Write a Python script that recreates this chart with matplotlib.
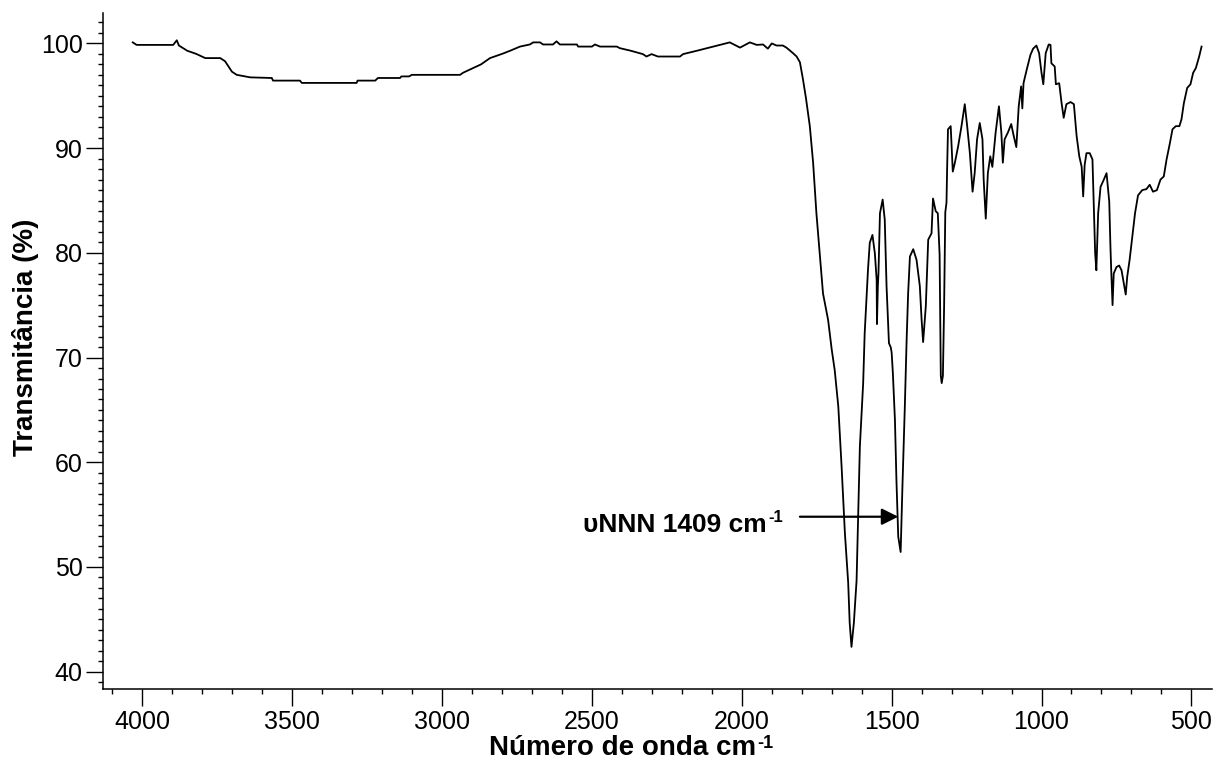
import matplotlib
matplotlib.use('Agg')
import matplotlib.pyplot as plt
from matplotlib.ticker import MultipleLocator

plt.rcParams['font.family'] = ['Liberation Sans', 'DejaVu Sans']

# espectro de IV (número de onda em cm-1, transmitância em %)
numero_onda = [4032, 4019, 3960, 3897, 3885, 3878, 3850, 3820, 3790, 3774, 3740, 3724, 3701,
               3685, 3640, 3568, 3564, 3474, 3468, 3285, 3282, 3223, 3214, 3140, 3136, 3110,
               3101, 2940, 2930, 2900, 2870, 2840, 2800, 2773, 2740, 2707, 2696, 2673, 2663,
               2630, 2618, 2607, 2550, 2546, 2500, 2490, 2473, 2417, 2407, 2370, 2330, 2318,
               2301, 2280, 2206, 2196, 2150, 2096, 2073, 2040, 2006, 1973, 1950, 1929, 1913,
               1900, 1884, 1863, 1851, 1829, 1817, 1806, 1796, 1786, 1773, 1762, 1751, 1740,
               1729, 1712, 1700, 1690, 1678, 1667, 1656, 1645, 1640, 1634, 1626, 1617, 1606,
               1595, 1590, 1584, 1579, 1573, 1564, 1556, 1550, 1549, 1546, 1544, 1539, 1530,
               1523, 1517, 1509, 1503, 1500, 1496, 1489, 1484, 1478, 1470, 1464, 1456, 1450,
               1445, 1439, 1428, 1417, 1406, 1400, 1395, 1386, 1378, 1367, 1362, 1353, 1346,
               1340, 1336, 1333, 1329, 1325, 1321, 1317, 1315, 1312, 1303, 1296, 1289, 1278,
               1267, 1256, 1248, 1239, 1230, 1223, 1215, 1206, 1197, 1193, 1186, 1179, 1171,
               1164, 1153, 1142, 1134, 1129, 1123, 1112, 1101, 1093, 1084, 1076, 1068, 1064,
               1060, 1056, 1048, 1037, 1028, 1017, 1008, 1000, 994, 986, 976, 970, 967, 956,
               952, 941, 933, 926, 917, 903, 892, 883, 874, 866, 861, 856, 850, 839, 830, 825,
               821, 817, 811, 803, 792, 783, 774, 770, 767, 763, 759, 750, 741, 733, 728, 719,
               714, 706, 697, 688, 678, 664, 650, 639, 628, 615, 603, 592, 583, 572, 563, 552,
               540, 533, 525, 514, 503, 494, 485, 474, 466]
transmitancia = [100.1, 99.86, 99.86, 99.86, 100.3, 99.8, 99.3, 99.0, 98.6, 98.6, 98.6, 98.3, 97.3,
                 97.0, 96.76, 96.7, 96.45, 96.45, 96.23, 96.23, 96.45, 96.45, 96.7, 96.7, 96.85, 96.85,
                 97.0, 97.0, 97.2, 97.6, 98.0, 98.6, 99.0, 99.3, 99.7, 99.9, 100.1, 100.1, 99.9,
                 99.9, 100.2, 99.9, 99.9, 99.7, 99.7, 99.9, 99.7, 99.7, 99.55, 99.3, 98.98, 98.75,
                 98.98, 98.75, 98.75, 98.98, 99.3, 99.7, 99.86, 100.1, 99.6, 100.1, 99.86, 99.9, 99.5,
                 100.0, 99.8, 99.8, 99.6, 99.07, 98.75, 98.2, 96.6, 94.8, 92.1, 88.61, 83.78, 79.95,
                 76.12, 73.6, 70.78, 68.81, 65.34, 59.6, 53.25, 48.51, 44.68, 42.37, 44.68, 48.71, 61.51,
                 67.56, 72.29, 75.52, 78.34, 80.96, 81.71, 79.95, 77.43, 73.2, 76.83, 78.03, 83.78, 85.09,
                 83.17, 76.83, 71.38, 70.98, 70.48, 68.56, 64.03, 58.29, 52.9, 51.43, 57.68, 65.34, 71.69,
                 76.12, 79.65, 80.35, 79.34, 76.83, 73.6, 71.48, 74.91, 81.26, 81.86, 85.19, 83.98, 83.78,
                 79.85, 68.26, 67.56, 68.26, 74.81, 83.88, 84.79, 87.91, 91.8, 92.1, 87.76, 88.61, 90.2,
                 92.1, 94.2, 92.1, 89.52, 85.84, 87.61, 90.85, 92.4, 90.85, 87.0, 83.27, 87.61, 89.22,
                 88.21, 91.5, 94.0, 91.5, 88.61, 90.85, 91.5, 92.3, 91.2, 90.1, 94.0, 95.9, 93.8,
                 96.2, 96.7, 97.65, 98.9, 99.5, 99.8, 99.07, 97.2, 96.1, 99.07, 99.9, 99.86, 98.1, 97.8,
                 96.1, 96.2, 94.3, 92.9, 94.2, 94.4, 94.2, 91.2, 89.22, 88.21, 85.39, 88.41, 89.52, 89.52,
                 88.92, 83.78, 79.95, 78.34, 83.78, 86.3, 87.0, 87.61, 84.89, 80.55, 78.03, 75.01, 78.03,
                 78.64, 78.79, 78.34, 77.53, 76.02, 77.73, 79.34, 81.56, 83.78, 85.49, 85.99, 86.09, 86.5,
                 85.84, 85.99, 87.0, 87.3, 88.88, 90.43, 91.8, 92.1, 92.1, 92.75, 94.3, 95.75, 96.1,
                 97.2, 97.65, 98.75, 99.7]

xticks = [4000, 3500, 3000, 2500, 2000, 1500, 1000, 500]
yticks = [40, 50, 60, 70, 80, 90, 100]

fig = plt.figure(figsize=(12.16, 7.63), dpi=100)
ax = fig.add_axes([0.085, 0.0966, 0.912, 0.886])

ax.plot(numero_onda, transmitancia, color='black', linewidth=1.3)

ax.set_xlim(4130, 430)
ax.set_ylim(38.32, 102.88)
ax.set_xticks(xticks)
ax.set_yticks(yticks)
ax.xaxis.set_minor_locator(MultipleLocator(100))
ax.yaxis.set_minor_locator(MultipleLocator(1))

ax.spines['top'].set_visible(False)
ax.spines['right'].set_visible(False)
for s in ['left', 'bottom']:
    ax.spines[s].set_linewidth(1.1)

ax.tick_params(which='major', direction='out', length=12, width=1.0, labelsize=18, pad=3)
ax.tick_params(which='minor', direction='out', length=3.6, width=1.0)

# rótulos dos eixos (expoente -1 com hífen curto, como no original)
ax.set_xlabel('Número de onda cm', fontsize=20, fontweight='bold')
ax.set_ylabel('Transmitância (%)', fontsize=20, fontweight='bold')
ax.xaxis.set_label_coords(0.468, -0.068)
ax.yaxis.set_label_coords(-0.058, 0.52)
ax.annotate('-1', xy=(1, 1), xycoords=ax.xaxis.label, xytext=(1, 0.5),
            textcoords='offset points', ha='left', va='top',
            fontsize=13, fontweight='bold')

# seta e rótulo do estiramento NNN
ax.annotate('', xy=(1478, 54.8), xytext=(1806, 54.8),
            arrowprops=dict(arrowstyle='-|>', color='black', lw=1.6,
                            mutation_scale=25, shrinkA=0, shrinkB=0))
txt = ax.text(2529, 53.34, 'υNNN 1409 cm', fontsize=19, fontweight='bold',
              ha='left', va='baseline')
ax.annotate('-1', xy=(1, 1), xycoords=txt, xytext=(1, 2),
            textcoords='offset points', ha='left', va='top',
            fontsize=12, fontweight='bold')

plt.savefig('out.png', dpi=100)
